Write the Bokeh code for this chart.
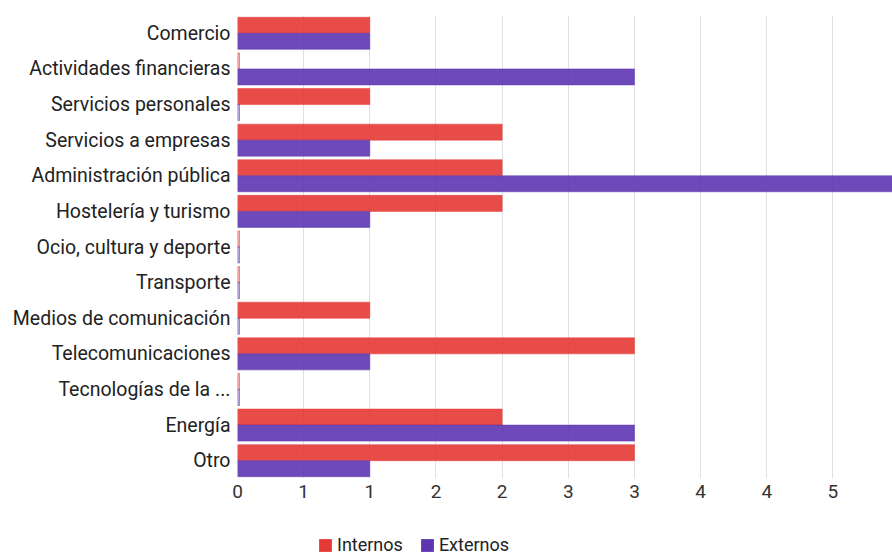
from bokeh.plotting import figure
from bokeh.layouts import column
from bokeh.models import FactorRange, Range1d, FixedTicker, Legend, LegendItem, ColumnDataSource
from bokeh.transform import dodge
from bokeh.embed import file_html
from bokeh.resources import INLINE

# Sectors, top to bottom
sectors = [
    "Comercio",
    "Actividades financieras",
    "Servicios personales",
    "Servicios a empresas",
    "Administración pública",
    "Hostelería y turismo",
    "Ocio, cultura y deporte",
    "Transporte",
    "Medios de comunicación",
    "Telecomunicaciones",
    "Tecnologías de la ...",
    "Energía",
    "Otro",
]
internos = [1, 0, 1, 2, 2, 2, 0, 0, 1, 3, 0, 2, 3]
externos = [1, 3, 0, 1, 6, 1, 0, 0, 0, 1, 0, 3, 1]

tick_values = [0, 0.5, 1, 1.5, 2, 2.5, 3, 3.5, 4, 4.5]
tick_labels = ["0", "1", "1", "2", "2", "3", "3", "4", "4", "5"]

series_names = ["Internos", "Externos"]

RED = "#e53935"
PURPLE = "#5e35b1"
FONT = "Roboto"

# zero-valued entries still get a hairline stub so the slot is visible
stub = 0.015
src = ColumnDataSource(dict(
    sector=sectors,
    internos=internos,
    externos=externos,
    internos_bar=[v if v > 0 else stub for v in internos],
    externos_bar=[v if v > 0 else stub for v in externos],
    internos_alpha=[0.9 if v > 0 else 0.45 for v in internos],
    externos_alpha=[0.9 if v > 0 else 0.45 for v in externos],
))

p = figure(
    width=892, height=518,
    y_range=FactorRange(*reversed(sectors), range_padding=0),
    x_range=Range1d(0, 4.95),
    output_backend="svg", toolbar_location=None,
    min_border_left=237, min_border_right=0, min_border_top=15, min_border_bottom=40,
)
p.outline_line_color = None
p.background_fill_color = "white"

p.hbar(y=dodge("sector", 0.225, range=p.y_range), left=0, right="internos_bar",
       height=0.45, source=src, fill_color=RED, fill_alpha="internos_alpha",
       line_color=RED, line_alpha=0.5, line_width=1)
p.hbar(y=dodge("sector", -0.225, range=p.y_range), left=0, right="externos_bar",
       height=0.45, source=src, fill_color=PURPLE, fill_alpha="externos_alpha",
       line_color=PURPLE, line_alpha=0.5, line_width=1)

# x axis: half-unit gridlines, labels rounded to integers
p.xaxis.ticker = FixedTicker(ticks=tick_values)
p.xaxis.major_label_overrides = {t: l for t, l in zip(tick_values, tick_labels)}
p.xaxis.axis_line_color = None
p.xaxis.major_tick_line_color = None
p.xaxis.minor_tick_line_color = None
p.xaxis.major_tick_out = 0
p.xaxis.major_tick_in = 0
p.xaxis.major_label_standoff = 6
p.xaxis.major_label_text_font = FONT
p.xaxis.major_label_text_font_size = "19px"
p.xaxis.major_label_text_color = "#333333"
p.xgrid.grid_line_color = "#e0e0e0"
p.xgrid.grid_line_width = 1

p.yaxis.axis_line_color = None
p.yaxis.major_tick_line_color = None
p.yaxis.minor_tick_line_color = None
p.yaxis.major_tick_out = 0
p.yaxis.major_tick_in = 0
p.yaxis.major_label_standoff = 7
p.yaxis.major_label_text_font = FONT
p.yaxis.major_label_text_font_size = "19.5px"
p.yaxis.major_label_text_color = "#222222"
p.ygrid.grid_line_color = None

# legend strip underneath the chart (its frame lines up with the chart's frame)
leg = figure(
    width=892, height=36, x_range=Range1d(0, 1), y_range=Range1d(0, 1),
    output_backend="svg", toolbar_location=None,
    min_border=0, outline_line_color=None,
)
leg.axis.visible = False
leg.grid.visible = False
# swatch renderers sit outside the strip's visible range; only their legend entries show
offscreen = ColumnDataSource(dict(y=[-5], right=[-5]))
swatches = [leg.hbar(y="y", right="right", height=0.1, source=offscreen, fill_color=c, line_color=None)
            for c in (RED, PURPLE)]
legend = Legend(
    items=[LegendItem(label=n, renderers=[r]) for n, r in zip(series_names, swatches)],
    orientation="horizontal",
    location=(80, -1),
    glyph_width=16, glyph_height=16,
    label_text_font=FONT, label_text_font_size="18px", label_text_color="#222222",
    label_standoff=4, spacing=16, padding=0, margin=0,
    background_fill_alpha=0, border_line_color=None,
)
leg.add_layout(legend, "center")

open("out.html", "w").write(file_html(column(p, leg), INLINE))
